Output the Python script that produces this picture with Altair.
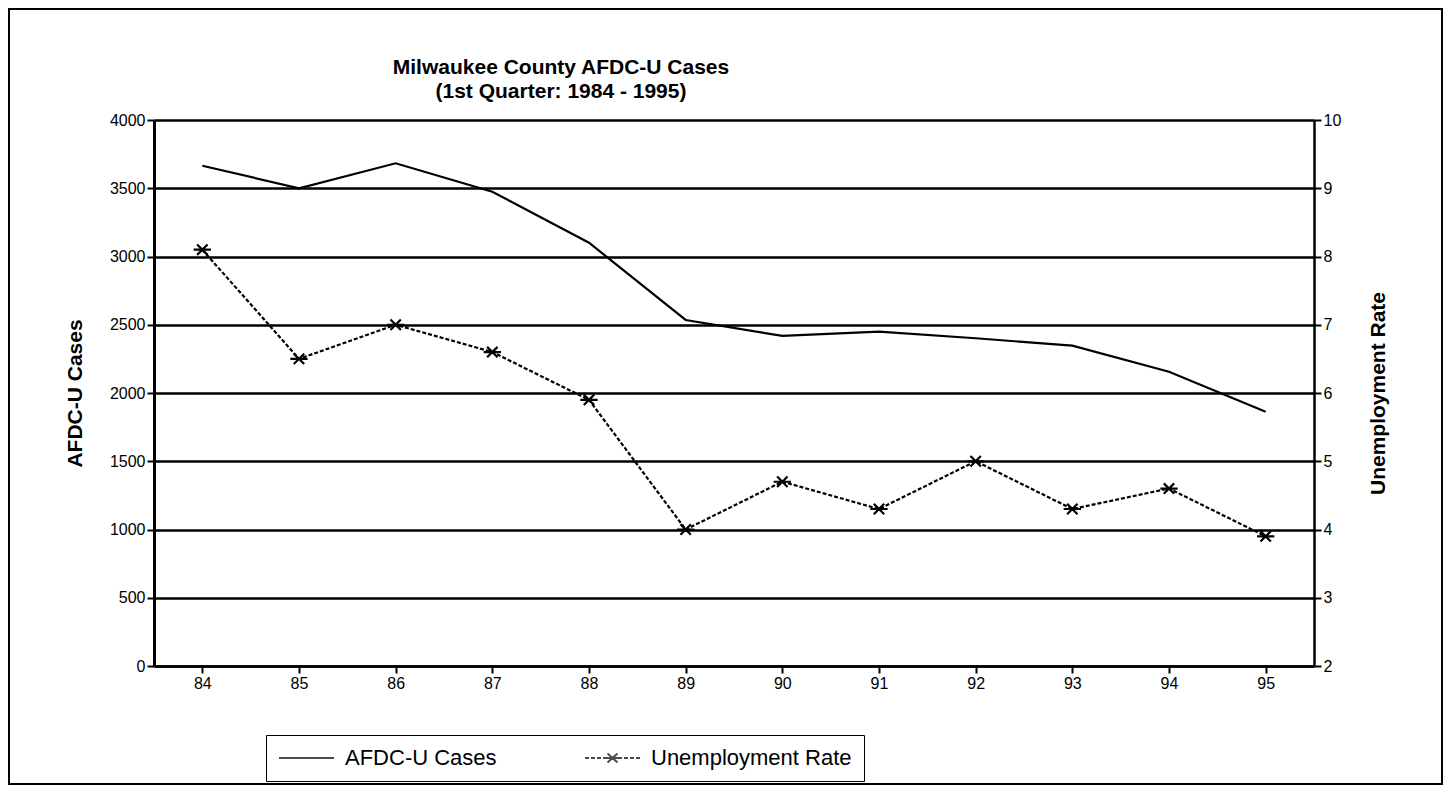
import altair as alt
import pandas as pd

# ---- data ----
years = ["84", "85", "86", "87", "88", "89", "90", "91", "92", "93", "94", "95"]
afdc_cases = [3665, 3500, 3683, 3475, 3101, 2535, 2418, 2449, 2401, 2347, 2156, 1863]
unemployment_rate = [8.1, 6.5, 7.0, 6.6, 5.9, 4.0, 4.7, 4.3, 5.0, 4.3, 4.6, 3.9]
left_ticks = [0, 500, 1000, 1500, 2000, 2500, 3000, 3500, 4000]
right_ticks = [2, 3, 4, 5, 6, 7, 8, 9, 10]
series_names = ["AFDC-U Cases", "Unemployment Rate"]
title_lines = ["Milwaukee County AFDC-U Cases", "(1st Quarter: 1984 - 1995)"]

df = pd.DataFrame({"year": years, "afdc": afdc_cases, "unemp": unemployment_rate})

FONT = "Liberation Sans"
W, H = 1160, 546

ASTERISK = "M-1,0L1,0M-0.6,-0.6L0.6,0.6M-0.6,0.6L0.6,-0.6"
LEG_SOLID = "M-1,0L4.5,0"
LEG_DASH = ("M-1,0L-0.6,0M-0.4,0L0,0M0.2,0L0.6,0M0.8,0L2.7,0"
            "M1.25,-0.45L2.25,0.45M1.25,0.45L2.25,-0.45"
            "M2.9,0L3.3,0M3.5,0L3.9,0M4.1,0L4.5,0")

x_enc = alt.X(
    "year:N", sort=years, scale=alt.Scale(padding=0.5),
    axis=alt.Axis(title=None, labelAngle=0, labelFontSize=16, labelColor="black",
                  tickColor="black", tickSize=7, tickWidth=2, domainColor="black",
                  domainWidth=2.5, labelPadding=2, grid=False),
)

border = alt.Chart(alt.Data(values=[{"k": 1}])).mark_rect(
    fill="transparent", stroke="black", strokeWidth=2
).encode(x=alt.value(-145), x2=alt.value(1288), y=alt.value(-111), y2=alt.value(664))

afdc_line = alt.Chart(df).mark_line(color="black", strokeWidth=2.2).encode(
    x=x_enc,
    y=alt.Y("afdc:Q", scale=alt.Scale(domain=[0, 4000], nice=False),
            axis=alt.Axis(orient="left", values=left_ticks, format="d", title="AFDC-U Cases",
                          titleFontSize=21, titleFontWeight="bold", titleColor="black",
                          titleX=-79, titleY=273, titleAngle=270, titleAlign="center",
                          titleBaseline="middle", labelFontSize=16, labelColor="black",
                          tickColor="black", tickSize=7, tickWidth=2, domainColor="black",
                          domainWidth=3, grid=True, gridColor="black", gridWidth=2.5,
                          labelPadding=2)),
)

legend_layer = alt.Chart(alt.Data(values=[{"series": s} for s in series_names])).mark_point(
    filled=False, color="black", strokeWidth=2
).encode(
    shape=alt.Shape("series:N", scale=alt.Scale(domain=series_names, range=[LEG_SOLID, LEG_DASH]),
                    legend=alt.Legend(orient="none", legendX=112, legendY=615,
                                      direction="horizontal", columns=2, title=None,
                                      strokeColor="black", padding=12, symbolSize=400,
                                      symbolStrokeWidth=2, symbolStrokeColor="black",
                                      labelFontSize=22, labelFont=FONT, labelColor="black",
                                      labelOffset=45, columnPadding=84, labelLimit=400)),
).transform_filter("false")

unemp_line = alt.Chart(df).mark_line(color="black", strokeWidth=2.2, strokeDash=[4, 2]).encode(
    x=x_enc,
    y=alt.Y("unemp:Q", scale=alt.Scale(domain=[2, 10], nice=False),
            axis=alt.Axis(orient="right", values=right_ticks, format="d", title="Unemployment Rate",
                          titleFontSize=21, titleFontWeight="bold", titleColor="black",
                          titleX=64, titleY=273, titleAngle=270, titleAlign="center",
                          titleBaseline="middle", labelFontSize=16, labelColor="black",
                          tickColor="black", tickSize=7, tickWidth=2, domainColor="black",
                          domainWidth=2.5, grid=False, labelPadding=2)),
)

unemp_pts = alt.Chart(df).mark_point(
    shape=ASTERISK, size=300, filled=False, color="black", strokeWidth=2.2, opacity=1
).encode(x=x_enc, y=alt.Y("unemp:Q"))

left = alt.layer(border, afdc_line, legend_layer)
right = alt.layer(unemp_line, unemp_pts)

chart = alt.layer(left, right).resolve_scale(y="independent").properties(
    width=W, height=H,
    padding={"left": 146, "top": 112, "right": 131, "bottom": 120},
    autosize=alt.AutoSizeParams(type="none"),
    title=alt.Title(title_lines, fontSize=21, font=FONT, fontWeight="bold", color="black",
                    anchor="middle", frame="group", dx=-173, dy=102, offset=8, lineHeight=24),
).configure_axis(labelFont=FONT, titleFont=FONT).configure_view(strokeWidth=0)

chart.save("out.html", embed_options={"renderer": "svg", "actions": False})
